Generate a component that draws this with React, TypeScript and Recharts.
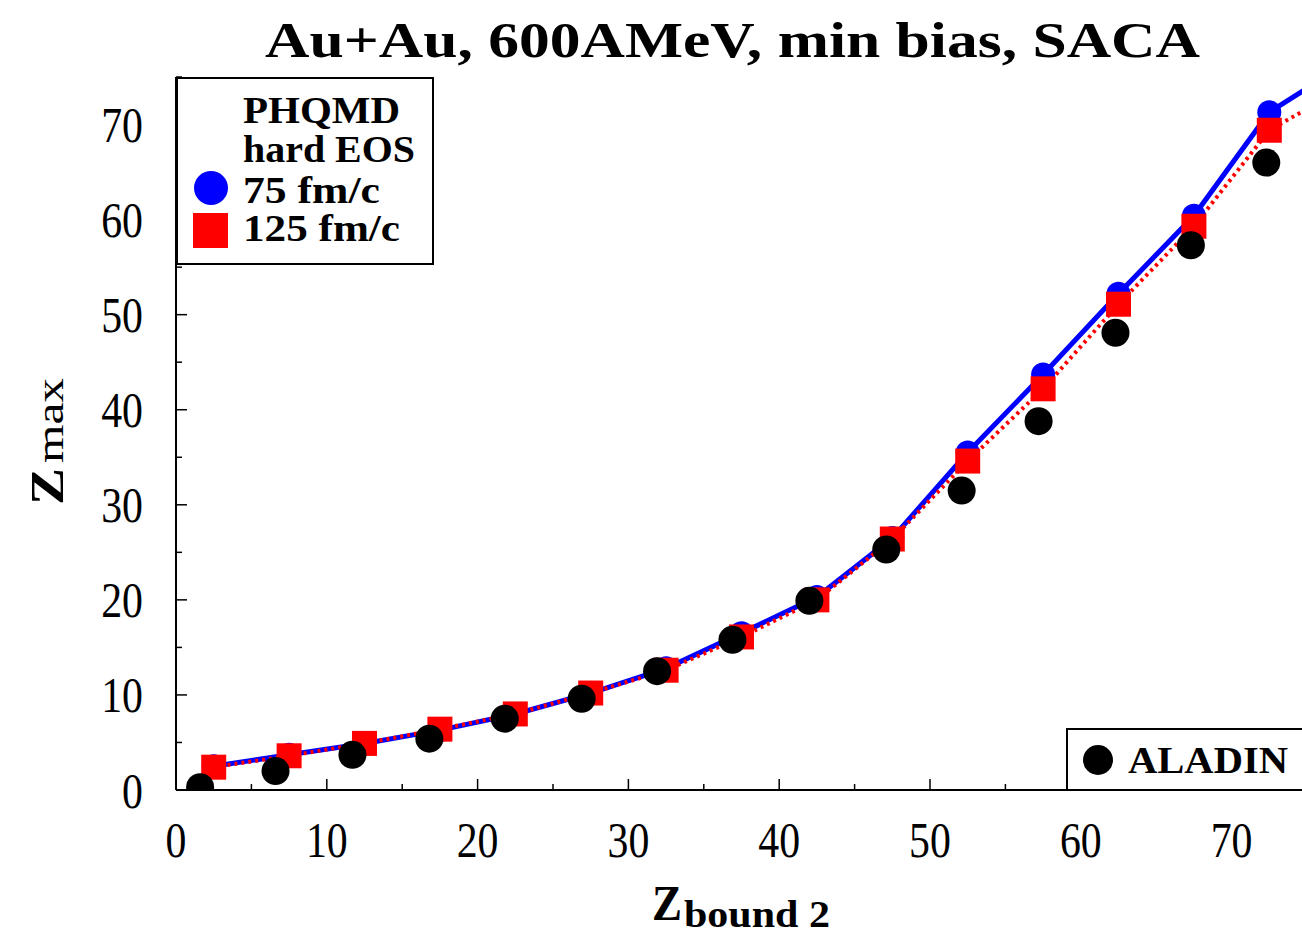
import React from 'react';
import { ComposedChart, Line, XAxis, YAxis } from 'recharts';

// Z_bound2 bins of the PHQMD calculation
const phqmdZBound = [2.5, 7.5, 12.5, 17.5, 22.5, 27.5, 32.5, 37.5, 42.5, 47.5, 52.5, 57.5, 62.5, 67.5, 72.5, 77.5];
// <Z_max> PHQMD hard EOS, 75 fm/c
const zmax75 = [2.5, 3.7, 4.9, 6.3, 8.0, 10.2, 12.8, 16.5, 20.3, 26.5, 35.5, 43.7, 52.2, 60.4, 71.3, 76.3];
// <Z_max> PHQMD hard EOS, 125 fm/c
const zmax125 = [2.4, 3.6, 4.9, 6.4, 8.0, 10.2, 12.6, 16.1, 20.0, 26.4, 34.6, 42.2, 51.1, 59.3, 69.4, 73.9];
// ALADIN data
const aladinZBound = [1.6, 6.6, 11.7, 16.8, 21.8, 26.9, 31.9, 36.9, 42.0, 47.1, 52.1, 57.2, 62.3, 67.3, 72.3];
const aladinZmax = [0.3, 2.0, 3.7, 5.4, 7.5, 9.6, 12.5, 15.8, 19.9, 25.3, 31.5, 38.8, 48.1, 57.3, 66.0];

const xTicks = [0, 5, 10, 15, 20, 25, 30, 35, 40, 45, 50, 55, 60, 65, 70, 75];
const yTicks = [0, 5, 10, 15, 20, 25, 30, 35, 40, 45, 50, 55, 60, 65, 70, 75];

const title = 'Au+Au, 600AMeV, min bias, SACA';
const legendHeader = ['PHQMD', 'hard EOS'];
const series75Name = '75 fm/c';
const series125Name = '125 fm/c';
const aladinName = 'ALADIN';

const blueData = phqmdZBound.map((x, i) => ({ x, y: zmax75[i] }));
const redData = phqmdZBound.map((x, i) => ({ x, y: zmax125[i] }));
const aladinData = aladinZBound.map((x, i) => ({ x, y: aladinZmax[i] }));

const SERIF = '"Liberation Serif", "DejaVu Serif", serif';
const MAJOR = 11;
const MINOR = 6;

const isMajor = (v: number) => v % 10 === 0;

const BottomTick = (props: any) => {
  const { x, y, payload } = props;
  const v = payload.value;
  return (
    <g>
      <line x1={x} x2={x} y1={y} y2={y - (isMajor(v) ? MAJOR : MINOR)} stroke="#000" strokeWidth={1.5} />
      {isMajor(v) && v <= 70 && (
        <text
          transform={`translate(${x},${y + 67}) scale(0.82,1)`}
          textAnchor="middle"
          fontFamily={SERIF}
          fontSize={51}
          fill="#000"
        >
          {v}
        </text>
      )}
    </g>
  );
};

const TopTick = (props: any) => {
  const { x, y, payload } = props;
  const v = payload.value;
  return <line x1={x} x2={x} y1={y} y2={y + (isMajor(v) ? MAJOR : MINOR)} stroke="#000" strokeWidth={1.5} />;
};

const LeftTick = (props: any) => {
  const { x, y, payload } = props;
  const v = payload.value;
  return (
    <g>
      <line x1={x} x2={x + (isMajor(v) ? MAJOR : MINOR)} y1={y} y2={y} stroke="#000" strokeWidth={1.5} />
      {isMajor(v) && v <= 70 && (
        <text
          transform={`translate(${x - 33},${y + 17.5}) scale(0.82,1)`}
          textAnchor="end"
          fontFamily={SERIF}
          fontSize={51}
          fill="#000"
        >
          {v}
        </text>
      )}
    </g>
  );
};

const RightTick = (props: any) => {
  const { x, y, payload } = props;
  const v = payload.value;
  return <line x1={x} x2={x - (isMajor(v) ? MAJOR : MINOR)} y1={y} y2={y} stroke="#000" strokeWidth={1.5} />;
};

const blueDot = (p: any) => <circle key={`b-${p.index}`} cx={p.cx} cy={p.cy} r={12} fill="#0000ff" />;
const redDot = (p: any) => (
  <rect key={`r-${p.index}`} x={p.cx - 12.5} y={p.cy - 12.5} width={25} height={25} fill="#ff0000" />
);
const blackDot = (p: any) => <circle key={`k-${p.index}`} cx={p.cx} cy={p.cy} r={14} fill="#000" />;

export default function App() {
  return (
    <div
      style={{
        position: 'fixed',
        left: 0,
        top: 0,
        width: 1302,
        height: 934,
        overflow: 'hidden',
        background: '#fff',
      }}
    >
      <div style={{ position: 'absolute', left: 0, top: 0 }}>
        <ComposedChart width={1320} height={934} margin={{ top: 77, right: 13, left: 0, bottom: 0 }}>
          <XAxis
            xAxisId="bottom"
            type="number"
            dataKey="x"
            domain={[0, 75]}
            ticks={xTicks}
            interval={0}
            allowDataOverflow
            orientation="bottom"
            height={144}
            tickSize={0}
            tickMargin={0}
            tickLine={false}
            axisLine={{ stroke: '#000', strokeWidth: 2 }}
            tick={BottomTick}
          />
          <XAxis
            xAxisId="top"
            type="number"
            dataKey="x"
            domain={[0, 75]}
            ticks={xTicks}
            interval={0}
            allowDataOverflow
            orientation="top"
            height={0}
            tickSize={0}
            tickMargin={0}
            tickLine={false}
            axisLine={{ stroke: '#000', strokeWidth: 2 }}
            tick={TopTick}
          />
          <YAxis
            yAxisId="left"
            type="number"
            domain={[0, 75]}
            ticks={yTicks}
            interval={0}
            allowDataOverflow
            orientation="left"
            width={176}
            tickSize={0}
            tickMargin={0}
            tickLine={false}
            axisLine={{ stroke: '#000', strokeWidth: 2 }}
            tick={LeftTick}
          />
          <YAxis
            yAxisId="right"
            type="number"
            domain={[0, 75]}
            ticks={yTicks}
            interval={0}
            allowDataOverflow
            orientation="right"
            width={0}
            tickSize={0}
            tickMargin={0}
            tickLine={false}
            axisLine={{ stroke: '#000', strokeWidth: 2 }}
            tick={RightTick}
          />
          <Line
            xAxisId="bottom"
            yAxisId="left"
            data={blueData}
            dataKey="y"
            type="linear"
            stroke="#0000ff"
            strokeWidth={5}
            dot={blueDot}
            activeDot={false}
            isAnimationActive={false}
          />
          <Line
            xAxisId="bottom"
            yAxisId="left"
            data={redData}
            dataKey="y"
            type="linear"
            stroke="#ff0000"
            strokeWidth={4}
            strokeDasharray="3 4"
            dot={redDot}
            activeDot={false}
            isAnimationActive={false}
          />
          <Line
            xAxisId="bottom"
            yAxisId="left"
            data={aladinData}
            dataKey="y"
            type="linear"
            stroke="none"
            strokeWidth={0}
            dot={blackDot}
            activeDot={false}
            isAnimationActive={false}
          />
        </ComposedChart>
      </div>
      <svg
        width={1302}
        height={934}
        style={{ position: 'absolute', left: 0, top: 0, pointerEvents: 'none' }}
      >
        {/* title */}
        <text
          x={265}
          y={57}
          textLength={935}
          lengthAdjust="spacingAndGlyphs"
          fontFamily={SERIF}
          fontWeight="bold"
          fontSize={50}
          fill="#000"
        >
          {title}
        </text>
        {/* y axis label */}
        <text transform="translate(63,505) rotate(-90)" fontFamily={SERIF} fill="#000">
          <tspan fontSize={46} fontWeight="bold" textLength={37} lengthAdjust="spacingAndGlyphs">Z</tspan>
          <tspan dx={5} fontSize={38} textLength={85} lengthAdjust="spacingAndGlyphs">max</tspan>
        </text>
        {/* x axis label */}
        <text x={652} y={920} fontFamily={SERIF} fill="#000">
          <tspan fontSize={50} fontWeight="bold" textLength={30} lengthAdjust="spacingAndGlyphs">Z</tspan>
          <tspan dx={2} dy={7} fontSize={38} fontWeight="bold" textLength={146} lengthAdjust="spacingAndGlyphs">bound 2</tspan>
        </text>
        {/* legend 1 */}
        <rect x={177} y={78} width={256} height={186} fill="#fff" stroke="#000" strokeWidth={2} />
        <text x={243} y={123} textLength={157} lengthAdjust="spacingAndGlyphs" fontFamily={SERIF} fontWeight="bold" fontSize={38} fill="#000">
          {legendHeader[0]}
        </text>
        <text x={243} y={162} textLength={172} lengthAdjust="spacingAndGlyphs" fontFamily={SERIF} fontWeight="bold" fontSize={38} fill="#000">
          {legendHeader[1]}
        </text>
        <circle cx={211} cy={188} r={17} fill="#0000ff" />
        <text x={243} y={203} textLength={137} lengthAdjust="spacingAndGlyphs" fontFamily={SERIF} fontWeight="bold" fontSize={38} fill="#000">
          {series75Name}
        </text>
        <rect x={193} y={213} width={35} height={35} fill="#ff0000" />
        <text x={243} y={241} textLength={157} lengthAdjust="spacingAndGlyphs" fontFamily={SERIF} fontWeight="bold" fontSize={38} fill="#000">
          {series125Name}
        </text>
        {/* legend 2 */}
        <rect x={1067} y={729} width={260} height={61} fill="#fff" stroke="#000" strokeWidth={2} />
        <circle cx={1098} cy={760} r={15} fill="#000" />
        <text x={1128} y={773} textLength={160} lengthAdjust="spacingAndGlyphs" fontFamily={SERIF} fontWeight="bold" fontSize={38} fill="#000">
          {aladinName}
        </text>
      </svg>
    </div>
  );
}
